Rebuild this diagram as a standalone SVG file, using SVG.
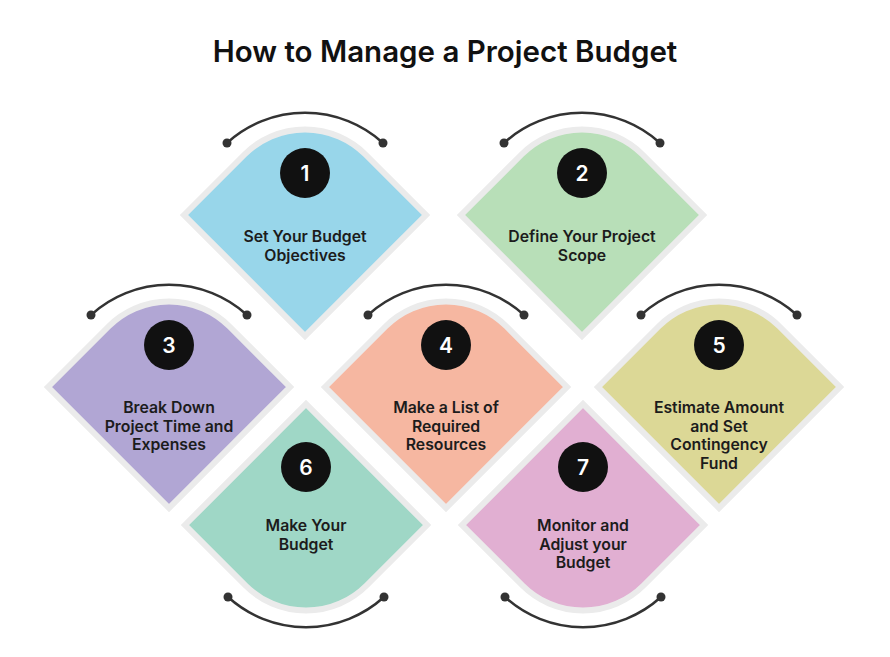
<svg xmlns="http://www.w3.org/2000/svg" width="890" height="657" viewBox="0 0 890 657">
<defs>
<style>
.title{font-family:Inter,"Liberation Sans",sans-serif;font-weight:600;font-size:29.5px;fill:#111;text-anchor:middle}
.lbl{font-family:Inter,"Liberation Sans",sans-serif;font-weight:600;font-size:15.8px;fill:#1c1c1c;text-anchor:middle}
.num{font-family:Inter,"Liberation Sans",sans-serif;font-weight:600;font-size:21px;fill:#fff;text-anchor:middle}
.sh{stroke:#ebebeb;stroke-width:6;stroke-linejoin:miter}
.badge{fill:#111}
.arc{fill:none;stroke:#333;stroke-width:2.5}
.dot{fill:#333}
</style>
<path id="top" d="M -121 0 L -60.5 -60.5 A 85.56 85.56 0 0 1 60.5 -60.5 L 121 0 L 0 121 Z"/>
<path id="bot" d="M -121 0 L 0 -121 L 121 0 L 60.5 60.5 A 85.56 85.56 0 0 1 -60.5 60.5 Z"/>
</defs>
<rect width="890" height="657" fill="#fff"/>
<text class="title" x="445" y="62">How to Manage a Project Budget</text>

<g id="connectors">
<g transform="translate(305,215)"><path class="arc" d="M -78 -72 A 116 116 0 0 1 78 -72"/><circle class="dot" cx="-78" cy="-72" r="4.5"/><circle class="dot" cx="78" cy="-72" r="4.5"/></g>
<g transform="translate(582,215)"><path class="arc" d="M -78 -72 A 116 116 0 0 1 78 -72"/><circle class="dot" cx="-78" cy="-72" r="4.5"/><circle class="dot" cx="78" cy="-72" r="4.5"/></g>
<g transform="translate(169,387)"><path class="arc" d="M -78 -72 A 116 116 0 0 1 78 -72"/><circle class="dot" cx="-78" cy="-72" r="4.5"/><circle class="dot" cx="78" cy="-72" r="4.5"/></g>
<g transform="translate(446,387)"><path class="arc" d="M -78 -72 A 116 116 0 0 1 78 -72"/><circle class="dot" cx="-78" cy="-72" r="4.5"/><circle class="dot" cx="78" cy="-72" r="4.5"/></g>
<g transform="translate(719,387)"><path class="arc" d="M -78 -72 A 116 116 0 0 1 78 -72"/><circle class="dot" cx="-78" cy="-72" r="4.5"/><circle class="dot" cx="78" cy="-72" r="4.5"/></g>
<g transform="translate(306,525)"><path class="arc" d="M -78 72 A 116 116 0 0 0 78 72"/><circle class="dot" cx="-78" cy="72" r="4.5"/><circle class="dot" cx="78" cy="72" r="4.5"/></g>
<g transform="translate(583,525)"><path class="arc" d="M -78 72 A 116 116 0 0 0 78 72"/><circle class="dot" cx="-78" cy="72" r="4.5"/><circle class="dot" cx="78" cy="72" r="4.5"/></g>
</g>

<g id="node1" transform="translate(305,215)">
<use href="#top" class="sh" fill="#98d6ea"/>
<circle class="badge" cx="0" cy="-42" r="25"/><text class="num" x="0" y="-34.5">1</text>
<text class="lbl" x="0" y="27">Set Your Budget</text><text class="lbl" x="0" y="45.5">Objectives</text>
</g>
<g id="node2" transform="translate(582,215)">
<use href="#top" class="sh" fill="#b8dfb8"/>
<circle class="badge" cx="0" cy="-42" r="25"/><text class="num" x="0" y="-34.5">2</text>
<text class="lbl" x="0" y="27">Define Your Project</text><text class="lbl" x="0" y="45.5">Scope</text>
</g>
<g id="node3" transform="translate(169,387)">
<use href="#top" class="sh" fill="#b1a6d4"/>
<circle class="badge" cx="0" cy="-42" r="25"/><text class="num" x="0" y="-34.5">3</text>
<text class="lbl" x="0" y="26">Break Down</text><text class="lbl" x="0" y="44.5">Project Time and</text><text class="lbl" x="0" y="63">Expenses</text>
</g>
<g id="node4" transform="translate(446,387)">
<use href="#top" class="sh" fill="#f6b7a1"/>
<circle class="badge" cx="0" cy="-42" r="25"/><text class="num" x="0" y="-34.5">4</text>
<text class="lbl" x="0" y="26">Make a List of</text><text class="lbl" x="0" y="44.5">Required</text><text class="lbl" x="0" y="63">Resources</text>
</g>
<g id="node5" transform="translate(719,387)">
<use href="#top" class="sh" fill="#dcd896"/>
<circle class="badge" cx="0" cy="-42" r="25"/><text class="num" x="0" y="-34.5">5</text>
<text class="lbl" x="0" y="26">Estimate Amount</text><text class="lbl" x="0" y="44.5">and Set</text><text class="lbl" x="0" y="63">Contingency</text><text class="lbl" x="0" y="81.5">Fund</text>
</g>
<g id="node6" transform="translate(306,525)">
<use href="#bot" class="sh" fill="#9fd7c6"/>
<circle class="badge" cx="0" cy="-58" r="25"/><text class="num" x="0" y="-50.5">6</text>
<text class="lbl" x="0" y="6">Make Your</text><text class="lbl" x="0" y="24.5">Budget</text>
</g>
<g id="node7" transform="translate(583,525)">
<use href="#bot" class="sh" fill="#e1afd2"/>
<circle class="badge" cx="0" cy="-58" r="25"/><text class="num" x="0" y="-50.5">7</text>
<text class="lbl" x="0" y="6">Monitor and</text><text class="lbl" x="0" y="24.5">Adjust your</text><text class="lbl" x="0" y="43">Budget</text>
</g>
</svg>
